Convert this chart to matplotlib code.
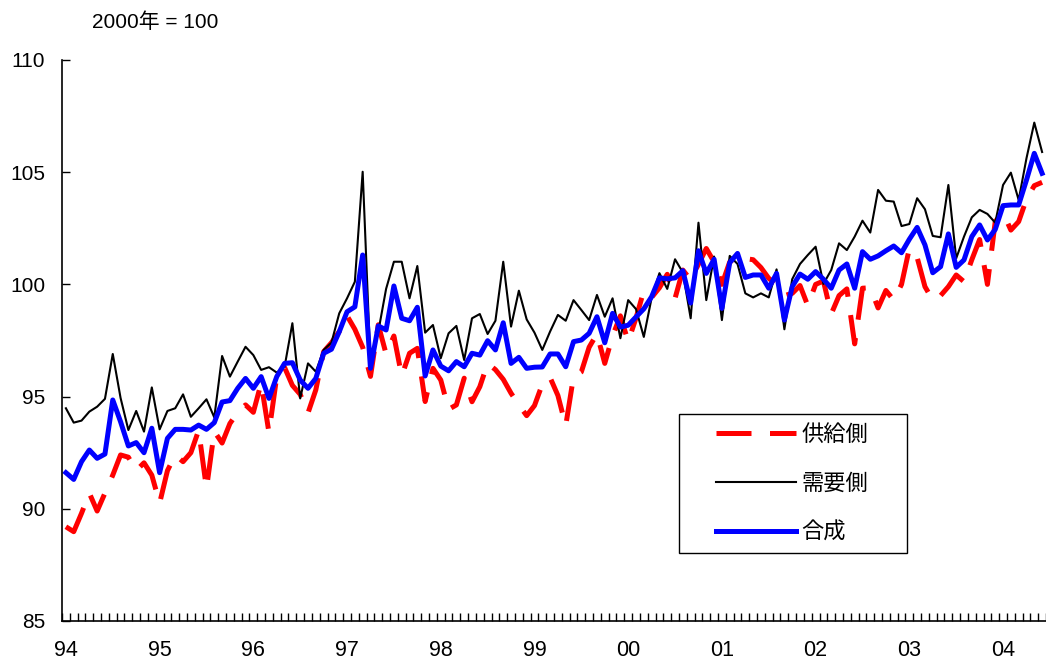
import numpy as np
import matplotlib
matplotlib.use('Agg')
import matplotlib.pyplot as plt
from matplotlib.patches import Rectangle

plt.rcParams['font.family'] = ['Liberation Sans', 'Noto Sans CJK JP']

# monthly index, 1994/1 onward (2000 = 100)
supply = [89.2, 88.98, 89.8, 90.7, 89.9, 90.7, 91.5, 92.4, 92.3, 91.7, 92.05, 91.5,
          90.25, 91.7, 92.4, 92.1, 92.5, 93.5, 90.9, 93.45, 92.93, 93.8, 94.3, 94.63,
          94.3, 95.6, 93.4, 95.9, 96.3, 95.5, 95.1, 94.27, 95.3, 97.0, 97.4, 97.9,
          98.6, 98.0, 97.2, 95.9, 98.2, 96.9, 97.7, 95.92, 96.93, 97.15, 94.78, 96.26,
          95.74, 94.43, 94.63, 95.82, 94.77, 95.44, 96.48, 96.2, 95.77, 95.15, 94.63, 94.15,
          94.6, 95.55, 95.85, 95.05, 93.7, 95.89, 96.1, 97.2, 97.8, 96.48, 97.7, 98.6,
          97.45, 98.5, 99.72, 99.42, 99.85, 100.45, 99.38, 100.64, 100.2, 100.9, 101.6, 101.0,
          100.0, 101.0, 101.2, 101.15, 101.1, 100.75, 100.27, 100.0, 99.5, 99.6, 99.95, 99.05,
          100.0, 100.15, 98.68, 99.5, 99.8, 97.35, 99.83, 99.85, 98.95, 99.73, 99.3, 100.0,
          101.6, 101.2, 99.9, 99.3, 99.5, 99.9, 100.42, 100.12, 101.1, 102.0, 100.0, 102.8,
          103.2, 102.42, 102.8, 103.8, 104.4, 104.55]

demand = [94.48, 93.84, 93.93, 94.33, 94.55, 94.9, 96.9, 94.94, 93.51, 94.36, 93.44, 95.41,
          93.54, 94.36, 94.48, 95.1, 94.1, 94.48, 94.88, 94.07, 96.81, 95.89, 96.56, 97.22,
          96.85, 96.19, 96.31, 96.07, 96.33, 98.27, 94.92, 96.48, 96.11, 97.08, 97.4, 98.71,
          99.38, 100.12, 105.02, 96.48, 97.89, 99.8, 101.01, 101.01, 99.38, 100.82, 97.85, 98.19,
          96.71, 97.82, 98.15, 96.63, 98.49, 98.68, 97.79, 98.38, 101.01, 98.12, 99.72, 98.44,
          97.85, 97.08, 97.9, 98.64, 98.38, 99.3, 98.86, 98.41, 99.53, 98.56, 99.38, 97.6,
          99.3, 98.9, 97.66, 99.4, 100.5, 99.8, 101.12, 100.53, 98.49, 102.75, 99.3, 101.24,
          98.41, 101.27, 100.91, 99.6, 99.42, 99.6, 99.42, 100.67, 98.0, 100.23, 100.91, 101.31,
          101.68, 100.02, 100.64, 101.83, 101.53, 102.13, 102.84, 102.31, 104.21, 103.73, 103.69, 102.6,
          102.69, 103.84, 103.35, 102.16, 102.1, 104.43, 101.16, 102.13, 102.99, 103.32, 103.14, 102.75,
          104.43, 104.98, 103.76, 105.62, 107.21, 105.9]

composite = [91.61, 91.31, 92.1, 92.62, 92.25, 92.44, 94.85, 93.88, 92.8, 92.95, 92.5, 93.59,
             91.61, 93.14, 93.54, 93.54, 93.51, 93.73, 93.54, 93.84, 94.76, 94.82, 95.37, 95.81,
             95.37, 95.89, 94.92, 95.89, 96.48, 96.51, 95.74, 95.37, 95.81, 96.93, 97.11, 97.89,
             98.78, 99.0, 101.31, 96.26, 98.15, 97.97, 99.93, 98.49, 98.38, 98.98, 95.92, 97.08,
             96.36, 96.15, 96.56, 96.33, 96.93, 96.85, 97.49, 97.08, 98.29, 96.48, 96.75, 96.26,
             96.31, 96.32, 96.9, 96.9, 96.33, 97.45, 97.52, 97.82, 98.56, 97.4, 98.71, 98.1,
             98.18, 98.55, 98.91, 99.45, 100.29, 100.25, 100.29, 100.61, 99.17, 101.5, 100.49, 101.12,
             98.93, 100.97, 101.38, 100.31, 100.42, 100.42, 99.83, 100.49, 98.41, 99.9, 100.46, 100.23,
             100.57, 100.23, 99.83, 100.64, 100.91, 99.83, 101.46, 101.12, 101.27, 101.5, 101.71, 101.41,
             102.01, 102.54, 101.76, 100.52, 100.79, 102.25, 100.76, 101.09, 102.13, 102.65, 101.98, 102.45,
             103.51, 103.54, 103.54, 104.65, 105.84, 104.95]

year_labels = ['94', '95', '96', '97', '98', '99', '00', '01', '02', '03', '04']

W, H = 1046, 661
fig = plt.figure(figsize=(W / 100, H / 100), dpi=100)
ax = fig.add_axes([62 / W, 1 - 621 / H, (W - 62) / W, 561 / H])

t = np.arange(len(supply))
ax.plot(t, supply, color='#ff0000', lw=3.6, dashes=(7, 3.7), label='供給側')
ax.plot(t, demand, color='black', lw=1.5, label='需要側')
ax.plot(t, composite, color='#0000ff', lw=3.6, label='合成')

ax.set_xlim(-0.45, 125.1)
ax.set_ylim(85, 110)
ax.set_yticks([85, 90, 95, 100, 105, 110])
ax.set_xticks(np.arange(len(year_labels)) * 12)
ax.set_xticklabels(year_labels)
ax.set_xticks(np.arange(0, 127) - 0.5, minor=True)

ax.tick_params(axis='y', direction='in', length=6, width=1, labelsize=15, pad=12)
ax.tick_params(axis='x', which='major', length=0, labelsize=15.5, pad=14)
ax.tick_params(axis='x', which='minor', direction='in', length=6, width=1)
for s in ['top', 'right']:
    ax.spines[s].set_visible(False)
for s in ['left', 'bottom']:
    ax.spines[s].set_linewidth(1.2)

fig.text(92 / W, 1 - 22 / H, '2000年 = 100', fontsize=15, va='center', ha='left')

# legend box
fig.patches.append(Rectangle((679 / W, 1 - 553 / H), 228 / W, 139 / H,
                             transform=fig.transFigure, fill=False,
                             edgecolor='black', lw=1, zorder=5))
ax.legend(loc='upper left', bbox_to_anchor=(716 / W, 1 - 425 / H),
          bbox_transform=fig.transFigure, frameon=False, fontsize=16,
          handlelength=3.6, handletextpad=0.25, labelspacing=1.25,
          borderpad=0, borderaxespad=0)

plt.savefig('out.png', dpi=100)
plt.close()
